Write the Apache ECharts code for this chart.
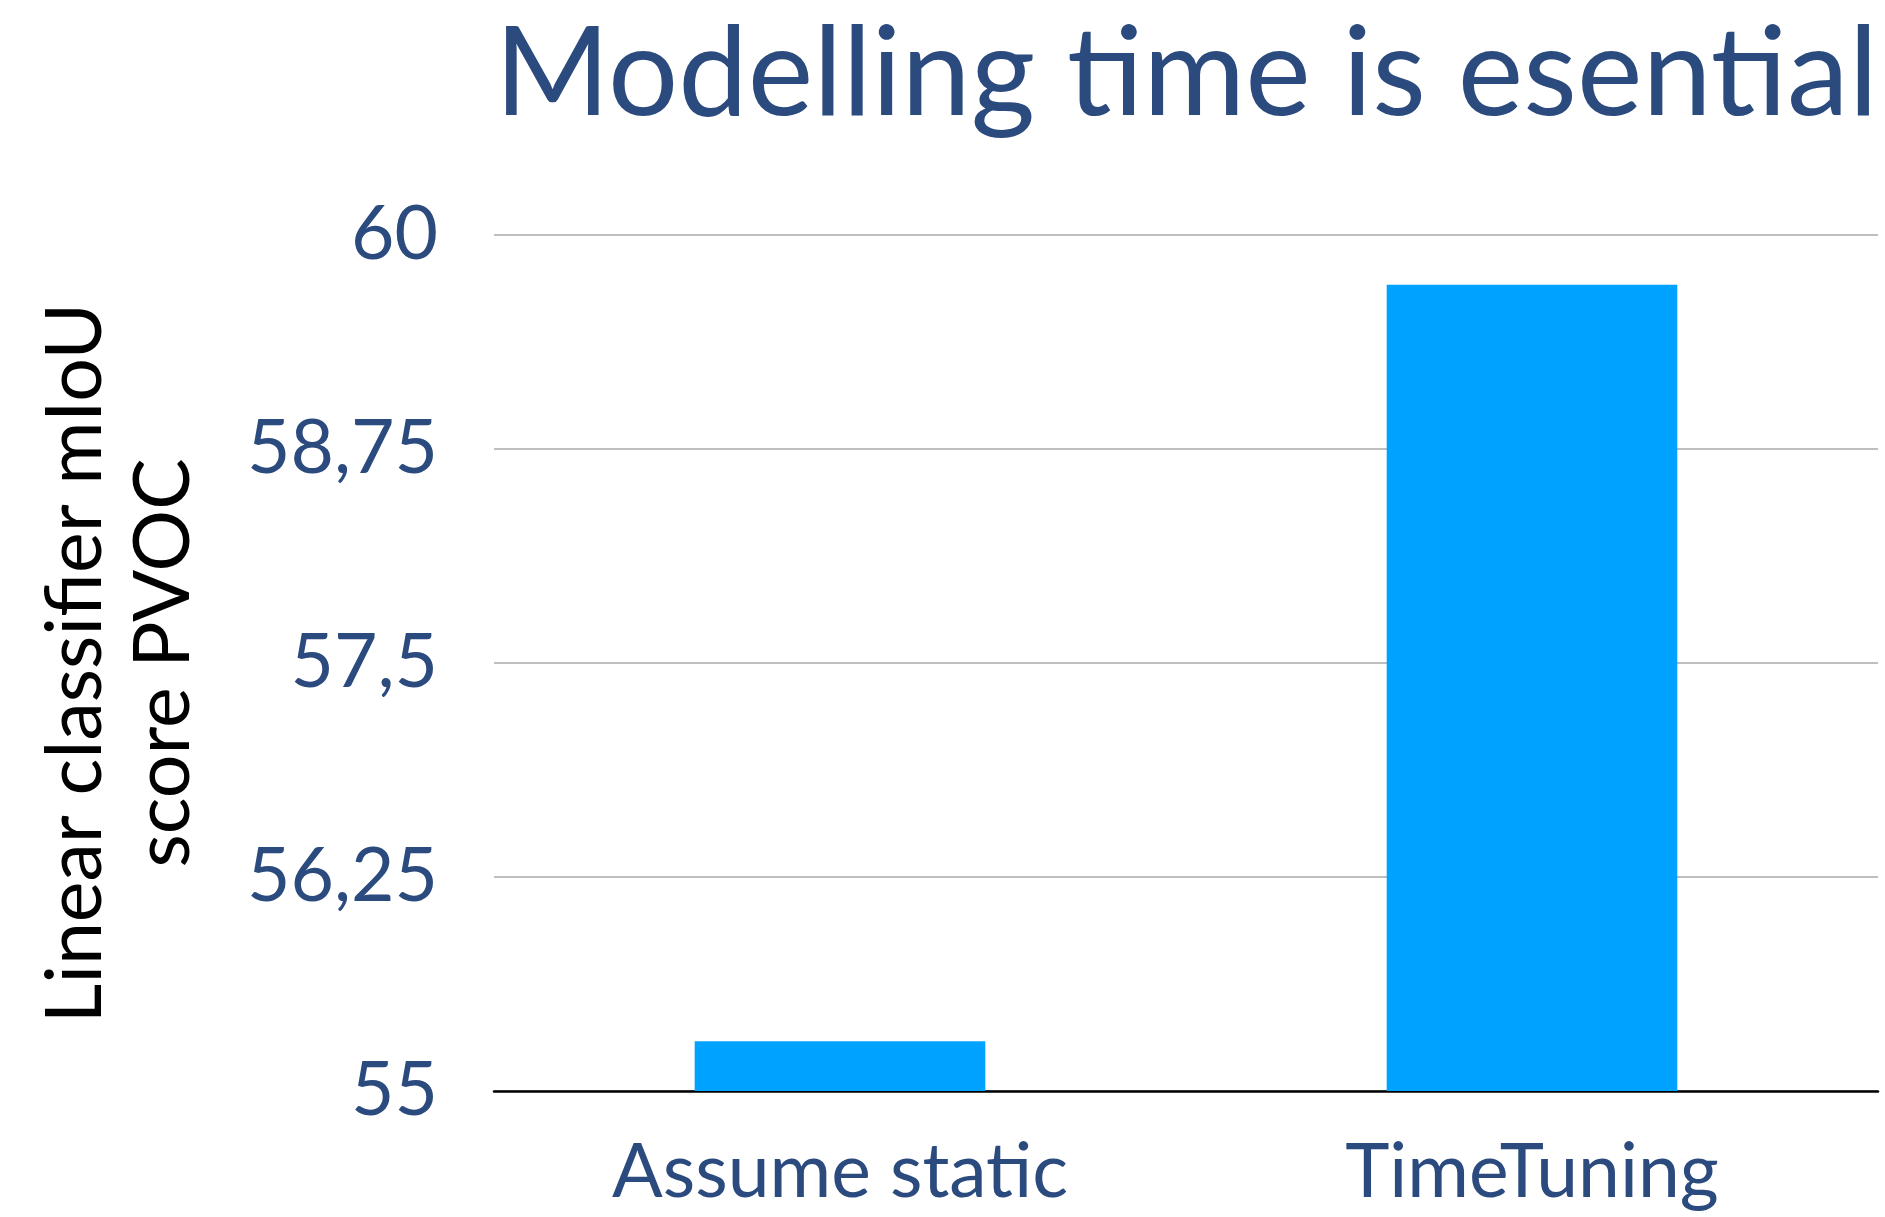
<!DOCTYPE html>
<html>
<head>
<meta charset="utf-8">
<script src="https://cdn.jsdelivr.net/npm/echarts@6/dist/echarts.min.js"></script>
<style>
html,body{margin:0;padding:0;background:#fff;}
#chart{width:1885px;height:1217px;}
</style>
</head>
<body>
<div id="chart"></div>
<script>
const titleText = 'Modelling time is esential';
const categories = ['Assume static', 'TimeTuning'];
const scores = [55.29, 59.71];
const yTicks = [55, 56.25, 57.5, 58.75, 60];
const yAxisName = 'Linear classifier mIoU\nscore PVOC';

const FONT = 'Lato';
const BLUE = '#2B4A7E';

const chart = echarts.init(document.getElementById('chart'), null, {renderer: 'canvas'});
chart.setOption({
  backgroundColor: '#ffffff',
  animation: false,
  title: {
    text: titleText,
    right: 2,
    top: 8,
    textStyle: {fontFamily: FONT, fontSize: 124, fontWeight: 'normal', color: BLUE}
  },
  grid: {left: 494, right: 7, top: 235, bottom: 126, containLabel: false},
  xAxis: {
    type: 'category',
    data: categories,
    axisLine: {lineStyle: {color: '#000', width: 2.5}},
    axisTick: {show: false},
    axisLabel: {fontFamily: FONT, fontSize: 75, color: BLUE, margin: 44}
  },
  yAxis: {
    type: 'value',
    min: yTicks[0],
    max: yTicks[yTicks.length - 1],
    interval: yTicks[1] - yTicks[0],
    name: yAxisName,
    nameLocation: 'middle',
    nameRotate: 90,
    nameGap: 286,
    nameTextStyle: {fontFamily: FONT, fontSize: 77, color: '#000', lineHeight: 88},
    axisLine: {show: false},
    axisTick: {show: false},
    splitLine: {lineStyle: {color: '#BFBFBF', width: 2}},
    axisLabel: {
      fontFamily: FONT, fontSize: 75, color: BLUE, margin: 56,
      formatter: v => String(v).replace('.', ',')
    }
  },
  series: [{
    type: 'bar',
    data: scores,
    barWidth: '42%',
    itemStyle: {color: '#00A2FF'}
  }]
});
</script>
</body>
</html>
